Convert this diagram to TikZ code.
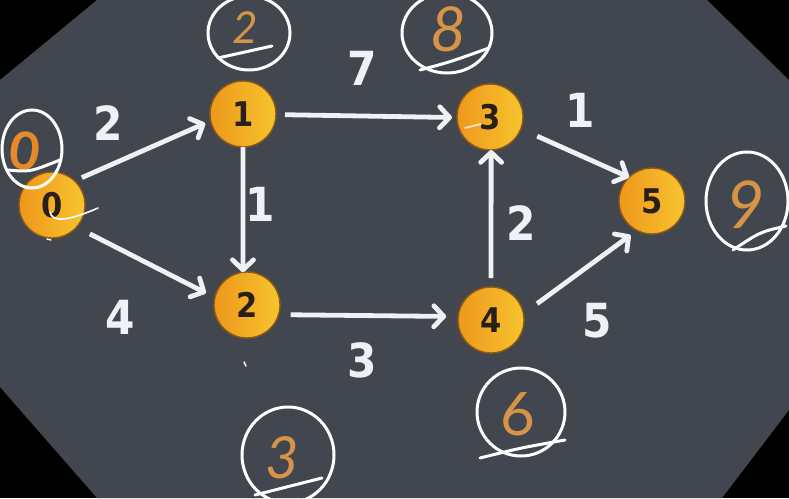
\documentclass[tikz,border=0pt]{standalone}
\usepackage{fontspec}
\setmainfont{DejaVu Sans}
\newfontfamily\wfont{DejaVu Sans Condensed}
\newfontfamily\hfont{Lato}
\usetikzlibrary{arrows.meta,shapes.geometric}
\definecolor{bgc}{RGB}{65,70,79}
\definecolor{ora}{RGB}{238,152,28}
\definecolor{orb}{RGB}{247,196,46}
\definecolor{rim}{RGB}{140,90,18}
\definecolor{ndt}{RGB}{40,32,24}
\definecolor{hw}{RGB}{214,148,72}
\definecolor{hw0}{RGB}{228,138,42}
\definecolor{wl}{RGB}{240,241,246}
\tikzset{
  vert/.style={circle, minimum size=66pt, inner sep=0pt, outer sep=0pt,
    left color=ora, right color=orb, draw=rim, line width=1.4pt,
    font=\wfont\bfseries\fontsize{34}{34}\selectfont, text=ndt},
  arr/.style={draw=wl, line width=4.8pt,
    -{Straight Barb[length=10pt,width=21pt,line cap=round,line join=round]}},
  wt/.style={text=wl, font=\wfont\bfseries\fontsize{47}{47}\selectfont, inner sep=0pt},
  ring/.style={ellipse, draw=white, line width=3pt, inner sep=0pt},
  hdig/.style={text=hw, font=\hfont\fontsize{54}{54}\selectfont, inner sep=0pt},
  hline/.style={draw=white, line width=3pt, line cap=round},
}
\begin{document}
\begin{tikzpicture}[x=1pt,y=-1pt]
\useasboundingbox (0,0) rectangle (789,498);
\fill[black] (0,0) rectangle (789,498);
\fill[bgc] (97,0) -- (707,0) -- (789,80) -- (789,410) -- (722,498) -- (97,498)
  -- (0,387) -- (0,80) -- cycle;

% vertices
\node[vert] (n0) at (52,205) {0};
\node[vert] (n1) at (243,114) {1};
\node[vert] (n2) at (247,305) {2};
\node[vert] (n3) at (490,117) {3};
\node[vert] (n4) at (491,320) {4};
\node[vert] (n5) at (652,201) {5};

% edges
\draw[arr, shorten <=8pt, shorten >=6pt] (n0.47) -- (n1.192);
\draw[arr, shorten <=15pt, shorten >=10pt] (n0.-42) -- (n2.167);
\draw[arr, shorten <=9pt, shorten >=5pt] (n1.-1) -- (n3.181);
\draw[arr] (n1.-90) -- (n2.97);
\draw[arr, shorten <=12pt, shorten >=12pt] (n2.-17) -- (n4.174);
\draw[arr, shorten <=9pt] (n4.90) -- (n3.-88);
\draw[arr, shorten <=18pt] (n3.-21) -- (n5.134);
\draw[arr, shorten <=17pt, shorten >=8pt] (n4.11) -- (n5.-117);

% weights
\node[wt] (w01) at (108,123) {2};
\node[wt] (w02) at (120,317) {4};
\node[wt] (w13) at (362,68) {7};
\node[wt] (w12) at (260,204) {1};
\node[wt] (w24) at (362,360) {3};
\node[wt] (w35) at (580,110) {1};
\node[wt] (w43) at (521,223) {2};
\node[wt] (w45) at (597,321) {5};

% hand-written distances
\node[ring, minimum width=60pt, minimum height=78pt] (r0) at (32,149) {};
\node[hdig, text=hw0, font=\hfont\bfseries\fontsize{52}{52}\selectfont, rotate=-8] (d0) at (25,151) {0};
\draw[hline] (8,170) .. controls (30,172) .. (60,160);

\node[ring, minimum width=82pt, minimum height=74pt] (r1) at (249,33) {};
\node[hdig, font=\hfont\itshape\fontsize{44}{44}\selectfont] (d1) at (245,28) {2};
\draw[hline] (218,58) -- (272,46);

\node[ring, minimum width=90pt, minimum height=80pt] (r3) at (447,33) {};
\node[hdig, font=\hfont\itshape\fontsize{62}{62}\selectfont] (d3) at (448,29) {8};
\draw[hline] (420,70) .. controls (450,62) .. (489,48);

\node[ring, minimum width=82pt, minimum height=98pt] (r5) at (747,201) {};
\node[hdig, font=\hfont\itshape\fontsize{66}{66}\selectfont] (d5) at (746,205) {9};
\draw[hline] (733,250) .. controls (760,232) .. (786,226);

\node[ring, minimum width=92pt, minimum height=96pt] (r2) at (288,455) {};
\node[hdig, font=\hfont\itshape\fontsize{58}{58}\selectfont] (d2) at (282,458) {3};
\draw[hline] (255,495) -- (322,478);

\node[ring, minimum width=88pt, minimum height=88pt] (r4) at (521,412) {};
\node[hdig, font=\hfont\fontsize{60}{60}\selectfont] (d4) at (518,414) {6};
\draw[hline] (480,458) .. controls (520,448) .. (565,440);

% small stray marks
\draw[draw=white, line width=1.6pt, line cap=round] (50,212) .. controls (52,222) and (66,222) .. (98,208);
\draw[draw=white!80!orange, line width=1.8pt, line cap=round] (465,128) -- (481,124);
\draw[draw=white, line width=1.4pt, line cap=round] (244,362) -- (246,366);
\draw[draw=white, line width=1.4pt, line cap=round] (47,239) -- (51,240);
\end{tikzpicture}
\end{document}
